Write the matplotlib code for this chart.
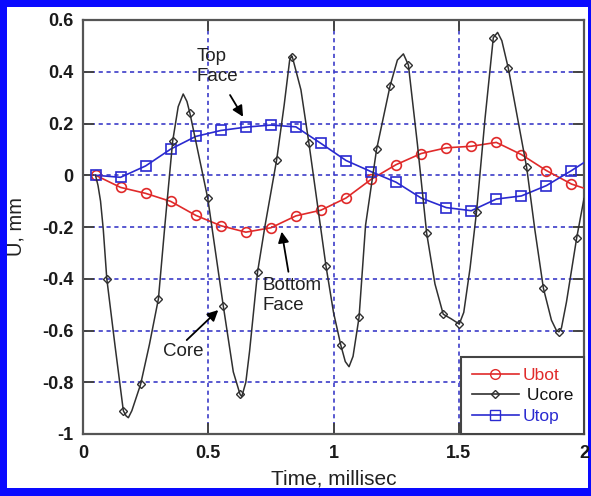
import matplotlib
matplotlib.use("Agg")
import matplotlib.pyplot as plt
from matplotlib.patches import Rectangle
from matplotlib.lines import Line2D
import numpy as np

plt.rcParams['font.family'] = ['Liberation Sans', 'DejaVu Sans']
plt.rcParams['axes.unicode_minus'] = False

# ---------------- data ----------------
face_t = [0.05, 0.15, 0.25, 0.35, 0.45, 0.55, 0.65, 0.75, 0.85, 0.95,
          1.05, 1.15, 1.25, 1.35, 1.45, 1.55, 1.65, 1.75, 1.85, 1.95]
ubot = [0.0, -0.047, -0.070, -0.101, -0.155, -0.195, -0.220, -0.203, -0.157, -0.135,
        -0.088, -0.016, 0.041, 0.084, 0.106, 0.112, 0.127, 0.080, 0.018, -0.034]
utop = [0.0, -0.008, 0.036, 0.101, 0.150, 0.173, 0.186, 0.194, 0.187, 0.123,
        0.057, 0.014, -0.027, -0.088, -0.125, -0.137, -0.092, -0.080, -0.040, 0.018]
end_t = 2.0
ubot_end = -0.05
utop_end = 0.049

# Ucore: marker points
core_mt = [0.095, 0.161, 0.230, 0.301, 0.358, 0.427, 0.498, 0.560, 0.627, 0.697,
           0.773, 0.836, 0.902, 0.970, 1.029, 1.102, 1.172, 1.226, 1.299, 1.372,
           1.438, 1.502, 1.571, 1.638, 1.698, 1.771, 1.838, 1.900, 1.971]
core_mu = [-0.400, -0.910, -0.808, -0.478, 0.132, 0.239, -0.089, -0.505, -0.847, -0.373,
           0.059, 0.456, 0.123, -0.351, -0.656, -0.549, 0.100, 0.346, 0.426, -0.225,
           -0.537, -0.575, -0.141, 0.532, 0.413, 0.031, -0.437, -0.605, -0.241]
# Ucore: extra points (peaks, troughs, bends)
core_xt = [0.05, 0.06, 0.07, 0.081, 0.128, 0.172, 0.181, 0.195, 0.265, 0.327,
           0.380, 0.400, 0.415, 0.600, 0.634, 0.650, 0.665, 0.727, 0.803, 0.825,
           0.833, 0.870, 1.000, 1.047, 1.062, 1.078, 1.128, 1.255, 1.279, 1.335,
           1.405, 1.470, 1.520, 1.545, 1.605, 1.655, 1.672, 1.804, 1.870, 1.890,
           1.910, 1.930, 2.0]
core_xu = [0.0, -0.04, -0.10, -0.21, -0.66, -0.93, -0.937, -0.91, -0.655, -0.192,
           0.265, 0.314, 0.285, -0.76, -0.855, -0.80, -0.68, -0.193, 0.271, 0.445,
           0.462, 0.33, -0.53, -0.72, -0.74, -0.70, -0.193, 0.445, 0.469, 0.12,
           -0.42, -0.555, -0.53, -0.36, 0.22, 0.552, 0.52, -0.212, -0.56, -0.60,
           -0.59, -0.49, -0.09]

xticks = [0, 0.5, 1, 1.5, 2]
yticks = [-1, -0.8, -0.6, -0.4, -0.2, 0, 0.2, 0.4, 0.6]

RED = '#e02a2a'
BLUE = '#2a2ad0'
BLACK = '#303030'

# ---------------- figure ----------------
W, H = 591, 496
fig = plt.figure(figsize=(W / 100, H / 100), dpi=100)
fig.patch.set_facecolor('#0a0aff')
fig.patches.append(Rectangle((7 / W, 8 / H), (588 - 7) / W, (488 - 7) / H,
                             transform=fig.transFigure, facecolor='white',
                             edgecolor='none', zorder=-5))

ax = fig.add_axes([83 / W, (H - 434) / H, (584 - 83) / W, (434 - 20) / H])
ax.set_zorder(2)
ax.set_xlim(0, 2)
ax.set_ylim(-1, 0.6)
ax.set_xticks(xticks)
ax.set_yticks(yticks)
ax.set_xticklabels([f"{v:g}" for v in xticks])
ax.set_yticklabels([f"{v:g}" for v in yticks])
for lab in ax.get_xticklabels() + ax.get_yticklabels():
    lab.set_fontweight('bold')
    lab.set_fontsize(13)
    lab.set_color('#1a1a1a')
ax.tick_params(direction='in', top=True, right=True, length=8, width=1.4,
               color='#444444')
ax.tick_params(axis='x', pad=8)
ax.tick_params(axis='y', pad=7)
for s in ax.spines.values():
    s.set_linewidth(1.6)
    s.set_color('#555555')

ax.grid(True, color='#3c3cc8', linestyle=(0, (2.5, 2.2)), linewidth=1.2)
ax.set_axisbelow(True)

# lines
bt = face_t + [end_t]
ax.plot(bt, ubot + [ubot_end], color=RED, lw=1.2, zorder=3)
ax.plot(face_t, ubot, linestyle='none', marker='o', ms=7, mfc='none', mec=RED,
        mew=1.2, zorder=4)
ax.plot(bt, utop + [utop_end], color=BLUE, lw=1.2, zorder=3)
ax.plot(face_t, utop, linestyle='none', marker='s', ms=7, mfc='none', mec=BLUE,
        mew=1.2, zorder=4)

ct = np.array(core_mt + core_xt)
cu = np.array(core_mu + core_xu)
order = np.argsort(ct)
ax.plot(ct[order], cu[order], color=BLACK, lw=1.1, zorder=5)
ax.plot(core_mt, core_mu, linestyle='none', marker='D', ms=4.5, mfc='none',
        mec=BLACK, mew=1.0, zorder=6)

ax.set_xlabel('Time, millisec', fontsize=15, color='#222222', labelpad=5)
ax.set_ylabel('U, mm', fontsize=14.5, color='#222222')
ax.yaxis.set_label_coords(-0.115, 0.5)

# annotations
tkw = dict(fontsize=13.5, color='#222222', va='top', ha='left')
ax.text(0.455, 0.49, 'Top\nFace', **tkw)
ax.text(0.715, -0.395, 'Bottom\nFace', **tkw)
ax.text(0.318, -0.650, 'Core', **tkw)
akw = dict(arrowstyle='-|>', color='black', lw=1.3, mutation_scale=16,
           shrinkA=0, shrinkB=0)
ax.annotate('', xy=(0.639, 0.226), xytext=(0.587, 0.310), arrowprops=akw)
ax.annotate('', xy=(0.793, -0.218), xytext=(0.820, -0.373), arrowprops=akw)
ax.annotate('', xy=(0.540, -0.521), xytext=(0.414, -0.637), arrowprops=akw)

# legend
handles = [
    Line2D([], [], color=RED, lw=1.2, marker='o', ms=7, mfc='none', mec=RED),
    Line2D([], [], color=BLACK, lw=1.2, marker='D', ms=4.5, mfc='none', mec=BLACK),
    Line2D([], [], color=BLUE, lw=1.2, marker='s', ms=7, mfc='none', mec=BLUE),
]
leg = ax.legend(handles, ['Ubot', ' Ucore', 'Utop'], loc='lower right',
                bbox_to_anchor=(1, 0), borderaxespad=0, fontsize=12.5,
                handlelength=2.7, handletextpad=0.2, labelspacing=0.3,
                borderpad=0.6, fancybox=False, framealpha=1, edgecolor='#444444')
leg.get_frame().set_linewidth(1.5)
for txt, c in zip(leg.get_texts(), [RED, '#111111', BLUE]):
    txt.set_color(c)

fig.savefig('out.png', dpi=100, facecolor=fig.get_facecolor())
